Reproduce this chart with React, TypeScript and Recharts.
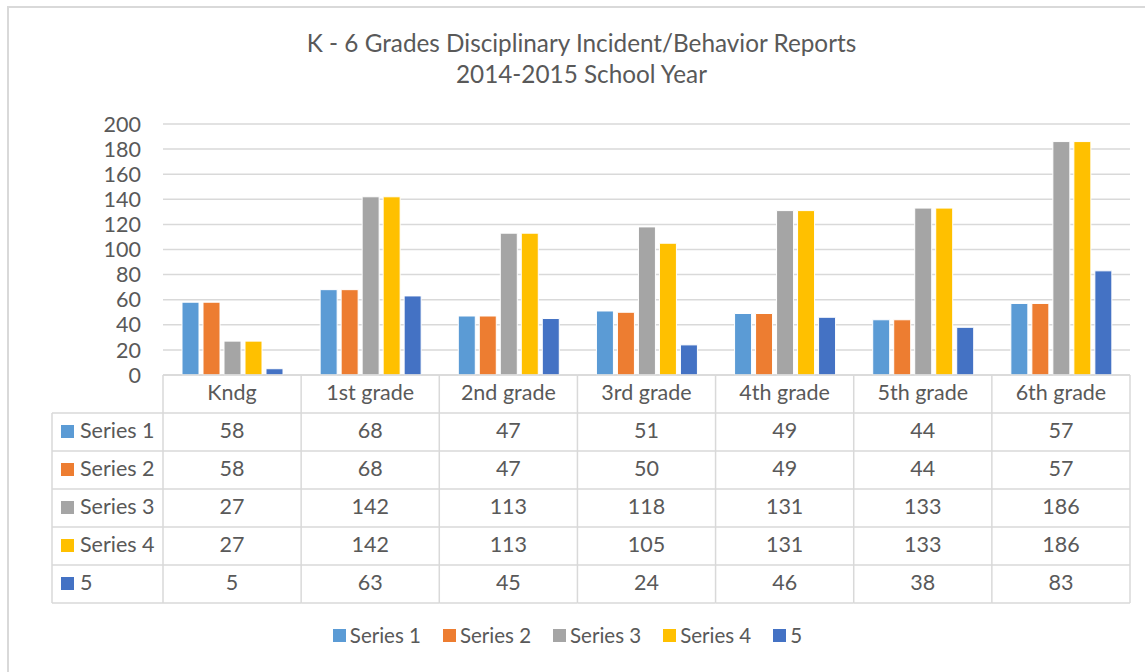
import React from 'react';
import { BarChart, Bar, XAxis, YAxis, CartesianGrid } from 'recharts';

const grades = ['Kndg', '1st grade', '2nd grade', '3rd grade', '4th grade', '5th grade', '6th grade'];
const series1 = [58, 68, 47, 51, 49, 44, 57];
const series2 = [58, 68, 47, 50, 49, 44, 57];
const series3 = [27, 142, 113, 118, 131, 133, 186];
const series4 = [27, 142, 113, 105, 131, 133, 186];
const series5 = [5, 63, 45, 24, 46, 38, 83];
const yTicks = [0, 20, 40, 60, 80, 100, 120, 140, 160, 180, 200];

const SERIES = [
  { key: 's1', label: 'Series 1', color: '#5B9BD5', values: series1 },
  { key: 's2', label: 'Series 2', color: '#ED7D31', values: series2 },
  { key: 's3', label: 'Series 3', color: '#A5A5A5', values: series3 },
  { key: 's4', label: 'Series 4', color: '#FFC000', values: series4 },
  { key: 's5', label: '5', color: '#4472C4', values: series5 },
];

const data = grades.map((g, i) => {
  const row: Record<string, string | number> = { grade: g };
  SERIES.forEach((s) => {
    row[s.key] = s.values[i];
  });
  return row;
});

const W = 1145;
const H = 672;
const PLOT_LEFT = 163;
const PLOT_RIGHT = 1130;
const PLOT_TOP = 124;
const PLOT_BOTTOM = 375;
const ROW_H = 38;
const TABLE_H = ROW_H * 6;
const TABLE_LEFT = 52;
const BAND = (PLOT_RIGHT - PLOT_LEFT) / grades.length;
const LINE = '#d9d9d9';
const TEXT = '#595959';
const FONT = 'Lato, "Open Sans", sans-serif';
const TABLE_FS = 21.5;
const TEXT_DY = '0.3em';

// one column of the data table, drawn under each category
function TableTick(props: any) {
  const { x, payload } = props;
  const idx = payload.index;
  const left = x - BAND / 2;
  const right = x + BAND / 2;
  const bottom = PLOT_BOTTOM + TABLE_H;
  return (
    <g>
      {idx === 0 && (
        <g>
          <line x1={TABLE_LEFT} x2={TABLE_LEFT} y1={PLOT_BOTTOM + ROW_H} y2={bottom} stroke={LINE} strokeWidth={1.5} />
          <line x1={left} x2={left} y1={PLOT_BOTTOM} y2={bottom} stroke={LINE} strokeWidth={1.5} />
          {SERIES.map((s, r) => {
            const cy = PLOT_BOTTOM + ROW_H * (r + 1);
            return (
              <g key={s.key}>
                <line x1={TABLE_LEFT} x2={left} y1={cy} y2={cy} stroke={LINE} strokeWidth={1.5} />
                <rect x={61} y={cy + ROW_H / 2 - 7} width={13} height={13} fill={s.color} />
                <text x={80} y={cy + ROW_H / 2} dy={TEXT_DY} fill={TEXT} fontSize={TABLE_FS} fontFamily={FONT}>
                  {s.label}
                </text>
              </g>
            );
          })}
          <line x1={TABLE_LEFT} x2={left} y1={bottom} y2={bottom} stroke={LINE} strokeWidth={1.5} />
        </g>
      )}
      <line x1={right} x2={right} y1={PLOT_BOTTOM} y2={bottom} stroke={LINE} strokeWidth={1.5} />
      <line x1={left} x2={right} y1={PLOT_BOTTOM} y2={PLOT_BOTTOM} stroke={LINE} strokeWidth={1.5} />
      <text x={x} y={PLOT_BOTTOM + ROW_H / 2} dy={TEXT_DY} textAnchor="middle" fill={TEXT} fontSize={TABLE_FS} fontFamily={FONT}>
        {payload.value}
      </text>
      {SERIES.map((s, r) => {
        const top = PLOT_BOTTOM + ROW_H * (r + 1);
        return (
          <g key={s.key}>
            <line x1={left} x2={right} y1={top} y2={top} stroke={LINE} strokeWidth={1.5} />
            <text x={x} y={top + ROW_H / 2} dy={TEXT_DY} textAnchor="middle" fill={TEXT} fontSize={TABLE_FS} fontFamily={FONT}>
              {s.values[idx]}
            </text>
          </g>
        );
      })}
      <line x1={left} x2={right} y1={bottom} y2={bottom} stroke={LINE} strokeWidth={1.5} />
    </g>
  );
}

function LegendRow() {
  return (
    <div style={{ display: 'flex', justifyContent: 'center', alignItems: 'center', fontFamily: FONT, fontSize: 20.5, color: TEXT }}>
      {SERIES.map((s, i) => (
        <div key={s.key} style={{ display: 'flex', alignItems: 'center', marginRight: i === SERIES.length - 1 ? 0 : 22 }}>
          <span style={{ display: 'inline-block', width: 13, height: 13, background: s.color, marginRight: 4 }} />
          <span>{s.label}</span>
        </div>
      ))}
    </div>
  );
}

export default function App() {
  return (
    <div style={{ position: 'absolute', left: 0, top: 0, width: W, height: H, background: '#fff', overflow: 'hidden' }}>
      <div style={{ position: 'absolute', left: 7, top: 6, width: W, height: H, border: `2px solid ${LINE}`, boxSizing: 'border-box' }} />
      <div style={{ position: 'absolute', left: 0, width: 1163, top: 27, textAlign: 'center', fontFamily: FONT, fontSize: 24.3, color: TEXT, lineHeight: '31px' }}>
        <div>K - 6 Grades Disciplinary Incident/Behavior Reports</div>
        <div>2014-2015 School Year</div>
      </div>
      <div style={{ position: 'absolute', left: 0, top: 0 }}>
        <BarChart
          width={W}
          height={H}
          data={data}
          margin={{ top: PLOT_TOP, right: W - PLOT_RIGHT, left: PLOT_LEFT - 60, bottom: H - PLOT_BOTTOM - TABLE_H }}
          barSize={17}
          barGap={4}
        >
          <CartesianGrid vertical={false} stroke={LINE} strokeWidth={1.5} />
          <XAxis
            dataKey="grade"
            axisLine={false}
            tickLine={false}
            height={TABLE_H}
            interval={0}
            tick={<TableTick />}
          />
          <YAxis
            width={60}
            domain={[0, 200]}
            ticks={yTicks}
            axisLine={false}
            tickLine={false}
            tickSize={0}
            tickMargin={22}
            tick={{ fill: TEXT, fontSize: 21.5, fontFamily: FONT }}
            interval={0}
          />
          {SERIES.map((s) => (
            <Bar key={s.key} dataKey={s.key} name={s.label} fill={s.color} stroke="#ffffff" strokeWidth={1} isAnimationActive={false} />
          ))}
        </BarChart>
      </div>
      <div style={{ position: 'absolute', left: 0, width: 1135, top: 623 }}>
        <LegendRow />
      </div>
    </div>
  );
}
